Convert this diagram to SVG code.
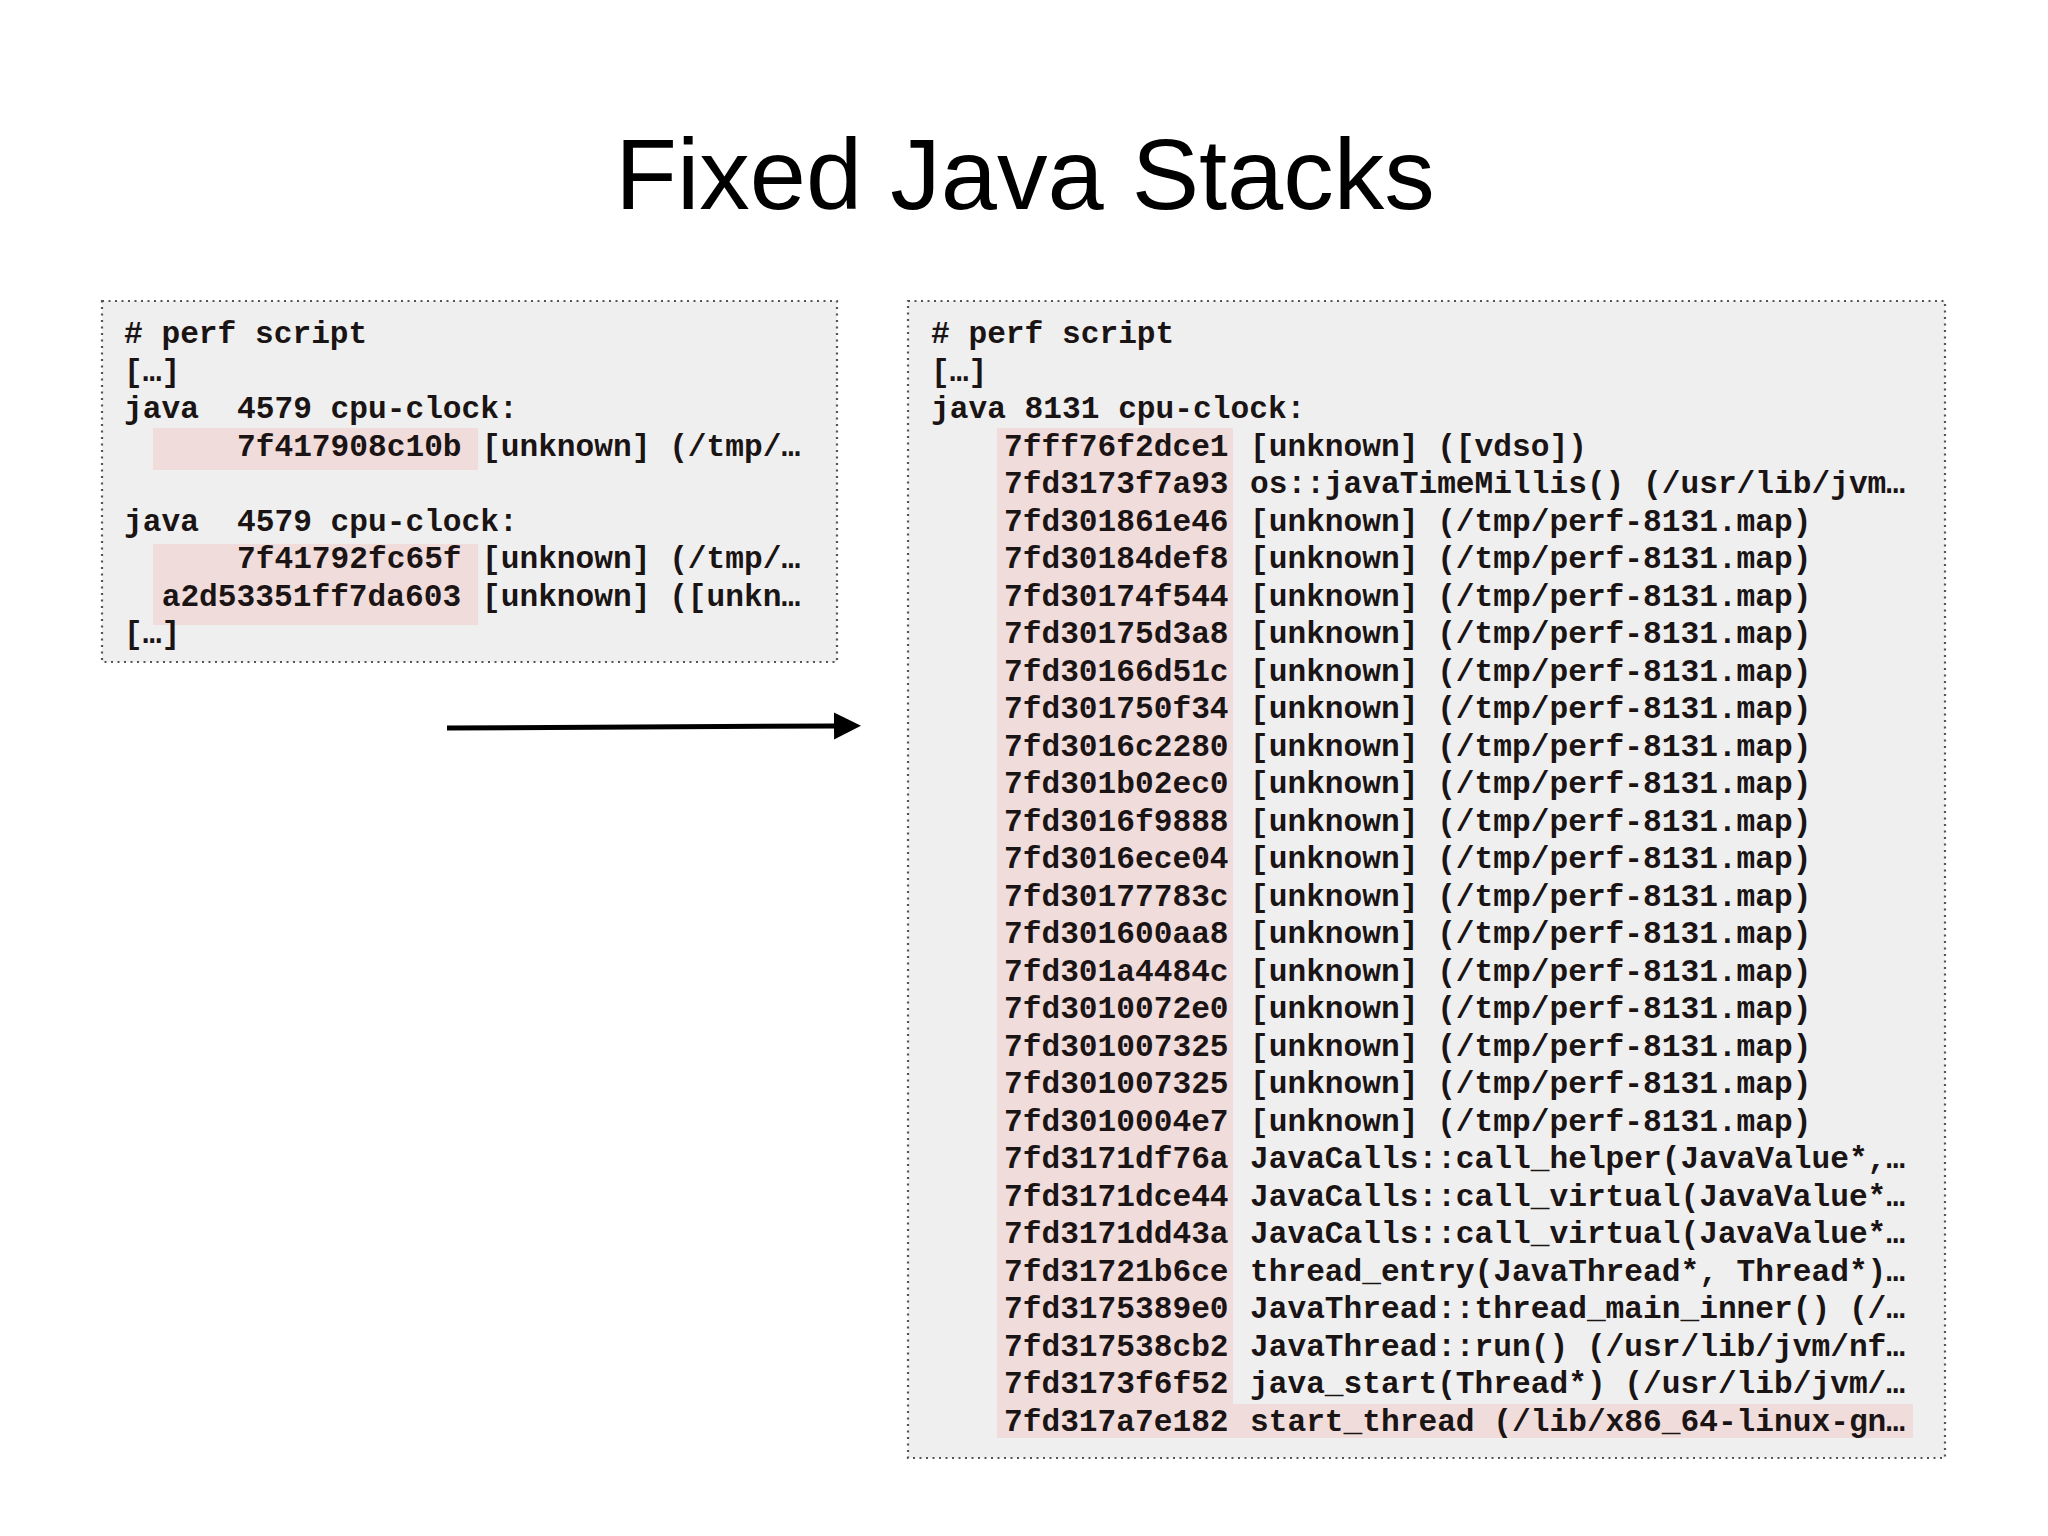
<svg xmlns="http://www.w3.org/2000/svg" width="2048" height="1536" viewBox="0 0 2048 1536">
<style>
.bg{fill:#ffffff}
.box{fill:#efefef;stroke:#555;stroke-width:2.2;stroke-dasharray:2 4.5}
.hl{fill:#f1dcdc}
.mono{font-family:"Liberation Mono","DejaVu Sans Mono",monospace;font-weight:bold;font-size:31.2px;fill:#1a1414}
.title{font-family:"Liberation Sans",Arial,sans-serif;font-size:101px;fill:#000;text-anchor:middle}
</style>
<defs>
<marker id="ah" markerUnits="userSpaceOnUse" markerWidth="28" markerHeight="28" refX="0" refY="13.5" orient="auto">
<path d="M0,0 L27,13.5 L0,27 Z" fill="#000"/>
</marker>
</defs>
<rect class="bg" x="0" y="0" width="2048" height="1536"/>
<g id="title"><text class="title" x="1025" y="209">Fixed Java Stacks</text></g>

<g id="left-box">
<rect class="box" x="102" y="301" width="735" height="361"/>
<rect class="hl" x="153" y="428" width="325" height="42"/>
<rect class="hl" x="153" y="544" width="325" height="81"/>
<g class="mono">
<text x="124" y="343">#&#160;perf script</text>
<text x="124" y="380.5">[…]</text>
<text y="418"><tspan x="124">java</tspan><tspan x="237">4579 cpu-clock:</tspan></text>
<text y="455.5"><tspan x="237">7f417908c10b</tspan><tspan x="482">[unknown] (/tmp/…</tspan></text>
<text y="530.5"><tspan x="124">java</tspan><tspan x="237">4579 cpu-clock:</tspan></text>
<text y="568"><tspan x="237">7f41792fc65f</tspan><tspan x="482">[unknown] (/tmp/…</tspan></text>
<text y="605.5"><tspan x="161.7">a2d53351ff7da603</tspan><tspan x="482">[unknown] ([unkn…</tspan></text>
<text x="124" y="643">[…]</text>
</g>
</g>

<g id="right-box">
<rect class="box" x="908" y="301" width="1037" height="1157"/>
<rect class="hl" x="997" y="428" width="236" height="1010"/>
<rect class="hl" x="1233" y="1404" width="680" height="34"/>
<g class="mono">
<text x="931" y="343">#&#160;perf script</text>
<text x="931" y="380.5">[…]</text>
<text x="931" y="418">java 8131 cpu-clock:</text>
<text y="455.5"><tspan x="1004">7fff76f2dce1</tspan><tspan x="1250">[unknown] ([vdso])</tspan></text>
<text y="493"><tspan x="1004">7fd3173f7a93</tspan><tspan x="1250">os::javaTimeMillis() (/usr/lib/jvm…</tspan></text>
<text y="530.5"><tspan x="1004">7fd301861e46</tspan><tspan x="1250">[unknown] (/tmp/perf-8131.map)</tspan></text>
<text y="568"><tspan x="1004">7fd30184def8</tspan><tspan x="1250">[unknown] (/tmp/perf-8131.map)</tspan></text>
<text y="605.5"><tspan x="1004">7fd30174f544</tspan><tspan x="1250">[unknown] (/tmp/perf-8131.map)</tspan></text>
<text y="643"><tspan x="1004">7fd30175d3a8</tspan><tspan x="1250">[unknown] (/tmp/perf-8131.map)</tspan></text>
<text y="680.5"><tspan x="1004">7fd30166d51c</tspan><tspan x="1250">[unknown] (/tmp/perf-8131.map)</tspan></text>
<text y="718"><tspan x="1004">7fd301750f34</tspan><tspan x="1250">[unknown] (/tmp/perf-8131.map)</tspan></text>
<text y="755.5"><tspan x="1004">7fd3016c2280</tspan><tspan x="1250">[unknown] (/tmp/perf-8131.map)</tspan></text>
<text y="793"><tspan x="1004">7fd301b02ec0</tspan><tspan x="1250">[unknown] (/tmp/perf-8131.map)</tspan></text>
<text y="830.5"><tspan x="1004">7fd3016f9888</tspan><tspan x="1250">[unknown] (/tmp/perf-8131.map)</tspan></text>
<text y="868"><tspan x="1004">7fd3016ece04</tspan><tspan x="1250">[unknown] (/tmp/perf-8131.map)</tspan></text>
<text y="905.5"><tspan x="1004">7fd30177783c</tspan><tspan x="1250">[unknown] (/tmp/perf-8131.map)</tspan></text>
<text y="943"><tspan x="1004">7fd301600aa8</tspan><tspan x="1250">[unknown] (/tmp/perf-8131.map)</tspan></text>
<text y="980.5"><tspan x="1004">7fd301a4484c</tspan><tspan x="1250">[unknown] (/tmp/perf-8131.map)</tspan></text>
<text y="1018"><tspan x="1004">7fd3010072e0</tspan><tspan x="1250">[unknown] (/tmp/perf-8131.map)</tspan></text>
<text y="1055.5"><tspan x="1004">7fd301007325</tspan><tspan x="1250">[unknown] (/tmp/perf-8131.map)</tspan></text>
<text y="1093"><tspan x="1004">7fd301007325</tspan><tspan x="1250">[unknown] (/tmp/perf-8131.map)</tspan></text>
<text y="1130.5"><tspan x="1004">7fd3010004e7</tspan><tspan x="1250">[unknown] (/tmp/perf-8131.map)</tspan></text>
<text y="1168"><tspan x="1004">7fd3171df76a</tspan><tspan x="1250">JavaCalls::call_helper(JavaValue*,…</tspan></text>
<text y="1205.5"><tspan x="1004">7fd3171dce44</tspan><tspan x="1250">JavaCalls::call_virtual(JavaValue*…</tspan></text>
<text y="1243"><tspan x="1004">7fd3171dd43a</tspan><tspan x="1250">JavaCalls::call_virtual(JavaValue*…</tspan></text>
<text y="1280.5"><tspan x="1004">7fd31721b6ce</tspan><tspan x="1250">thread_entry(JavaThread*, Thread*)…</tspan></text>
<text y="1318"><tspan x="1004">7fd3175389e0</tspan><tspan x="1250">JavaThread::thread_main_inner() (/…</tspan></text>
<text y="1355.5"><tspan x="1004">7fd317538cb2</tspan><tspan x="1250">JavaThread::run() (/usr/lib/jvm/nf…</tspan></text>
<text y="1393"><tspan x="1004">7fd3173f6f52</tspan><tspan x="1250">java_start(Thread*) (/usr/lib/jvm/…</tspan></text>
<text y="1430.5"><tspan x="1004">7fd317a7e182</tspan><tspan x="1250">start_thread (/lib/x86_64-linux-gn…</tspan></text>
</g>
</g>

<g id="connectors">
<line x1="447" y1="728" x2="834" y2="726" stroke="#000" stroke-width="5" marker-end="url(#ah)"/>
</g>
</svg>
